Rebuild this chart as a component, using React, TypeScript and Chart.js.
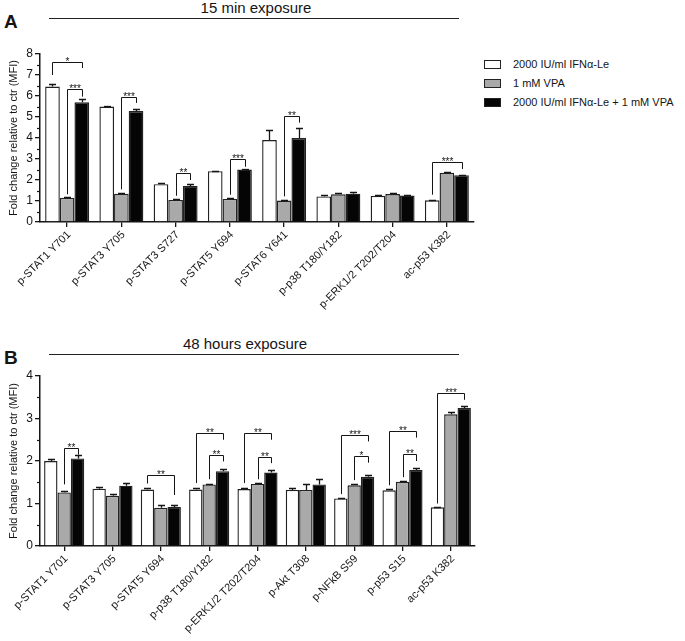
import React, { useEffect, useRef } from "react";
import { Chart, registerables } from "chart.js";

Chart.register(...registerables);

// ---------- Panel A: 15 min exposure ----------
const categoriesA = [
  "p-STAT1 Y701",
  "p-STAT3 Y705",
  "p-STAT3 S727",
  "p-STAT5 Y694",
  "p-STAT6 Y641",
  "p-p38 T180/Y182",
  "p-ERK1/2 T202/T204",
  "ac-p53 K382",
];
const ifnA = [6.45, 5.5, 1.8, 2.42, 3.9, 1.22, 1.25, 1.03];
const ifnAErr = [0.1, 0.02, 0.07, 0.03, 0.5, 0.07, 0.05, 0.02];
const vpaA = [1.15, 1.35, 1.05, 1.1, 1.02, 1.32, 1.33, 2.35];
const vpaAErr = [0.02, 0.04, 0.03, 0.03, 0.02, 0.05, 0.04, 0.04];
const comboA = [5.7, 5.28, 1.72, 2.5, 4.0, 1.35, 1.26, 2.23];
const comboAErr = [0.17, 0.09, 0.08, 0.02, 0.5, 0.1, 0.02, 0.03];
// significance brackets: [category, fromSeries, toSeries, topValue, leftEndValue, rightEndValue, label]
const bracketsA: [number, number, number, number, number, number, string][] = [
  [0, 0, 2, 7.6, 7.0, 7.33, "*"],
  [0, 1, 2, 6.32, 1.32, 5.97, "***"],
  [1, 1, 2, 5.97, 1.55, 5.67, "***"],
  [2, 1, 2, 2.32, 1.25, 2.0, "**"],
  [3, 1, 2, 2.98, 1.3, 2.63, "***"],
  [4, 1, 2, 5.05, 1.22, 4.73, "**"],
  [7, 0, 2, 2.84, 1.3, 2.52, "***"],
];
const yTicksA = [0, 1, 2, 3, 4, 5, 6, 7, 8];

// ---------- Panel B: 48 hours exposure ----------
const categoriesB = [
  "p-STAT1 Y701",
  "p-STAT3 Y705",
  "p-STAT5 Y694",
  "p-p38 T180/Y182",
  "p-ERK1/2 T202/T204",
  "p-Akt T308",
  "p-NFkB S59",
  "p-p53 S15",
  "ac-p53 K382",
];
const ifnB = [2.0, 1.35, 1.33, 1.33, 1.34, 1.32, 1.12, 1.31, 0.91];
const ifnBErr = [0.05, 0.04, 0.04, 0.04, 0.03, 0.05, 0.01, 0.02, 0.01];
const vpaB = [1.26, 1.18, 0.9, 1.45, 1.46, 1.32, 1.43, 1.51, 3.1];
const vpaBErr = [0.04, 0.04, 0.07, 0.02, 0.02, 0.13, 0.02, 0.01, 0.06];
const comboB = [2.06, 1.42, 0.92, 1.76, 1.73, 1.45, 1.63, 1.79, 3.25];
const comboBErr = [0.09, 0.07, 0.04, 0.06, 0.05, 0.13, 0.04, 0.05, 0.04];
const bracketsB: [number, number, number, number, number, number, string][] = [
  [0, 1, 2, 2.3, 1.45, 2.15, "**"],
  [2, 0, 2, 1.67, 1.47, 1.2, "**"],
  [3, 0, 2, 2.66, 1.48, 2.5, "**"],
  [3, 1, 2, 2.15, 1.57, 1.99, "**"],
  [4, 0, 2, 2.66, 1.48, 2.5, "**"],
  [4, 1, 2, 2.1, 1.57, 1.95, "**"],
  [6, 0, 2, 2.62, 1.22, 2.46, "***"],
  [6, 1, 2, 2.12, 1.55, 1.96, "*"],
  [7, 0, 2, 2.71, 1.43, 2.55, "**"],
  [7, 1, 2, 2.16, 1.62, 2.0, "**"],
  [8, 0, 2, 3.6, 1.0, 3.44, "***"],
];
const yTicksB = [0, 1, 2, 3, 4];

const seriesNames = [
  "2000 IU/ml IFN\u03b1-Le",
  "1 mM VPA",
  "2000 IU/ml IFN\u03b1-Le + 1 mM VPA",
];
const seriesFill = ["#ffffff", "#a9a9a9", "#050505"];

const FONT = "'Liberation Sans', Arial, Helvetica, sans-serif";
const INK = "#151515";

type Bracket = [number, number, number, number, number, number, string];

function makePlugins(errors: number[][], brackets: Bracket[]) {
  const errorBars = {
    id: "errorBars",
    afterDatasetsDraw(chart: any) {
      const ctx = chart.ctx;
      const y = chart.scales.y;
      ctx.save();
      ctx.strokeStyle = INK;
      ctx.lineWidth = 1.3;
      chart.data.datasets.forEach((ds: any, i: number) => {
        const meta = chart.getDatasetMeta(i);
        meta.data.forEach((bar: any, j: number) => {
          const e = errors[i][j];
          if (!e) return;
          const v = ds.data[j];
          const yTop = Math.round(y.getPixelForValue(v + e)) + 0.5;
          const yBase = y.getPixelForValue(v);
          const x = Math.round(bar.x) + 0.5;
          ctx.beginPath();
          ctx.moveTo(x, yBase);
          ctx.lineTo(x, yTop);
          ctx.moveTo(x - 3.5, yTop);
          ctx.lineTo(x + 3.5, yTop);
          ctx.stroke();
        });
      });
      ctx.restore();
    },
  };
  const sig = {
    id: "sigBrackets",
    afterDatasetsDraw(chart: any) {
      const ctx = chart.ctx;
      const y = chart.scales.y;
      ctx.save();
      ctx.strokeStyle = INK;
      ctx.fillStyle = INK;
      ctx.lineWidth = 1;
      ctx.font = `10px ${FONT}`;
      ctx.textAlign = "center";
      ctx.textBaseline = "alphabetic";
      brackets.forEach(([cat, a, b, top, ya, yb, label]) => {
        const x1 = Math.round(chart.getDatasetMeta(a).data[cat].x) + 0.5;
        const x2 = Math.round(chart.getDatasetMeta(b).data[cat].x) + 0.5;
        const yt = Math.round(y.getPixelForValue(top)) + 0.5;
        ctx.beginPath();
        ctx.moveTo(x1, y.getPixelForValue(ya));
        ctx.lineTo(x1, yt);
        ctx.lineTo(x2, yt);
        ctx.lineTo(x2, y.getPixelForValue(yb));
        ctx.stroke();
        ctx.fillText(label, (x1 + x2) / 2, yt + 2);
      });
      ctx.restore();
    },
  };
  const axisDecor = {
    id: "axisDecor",
    afterDraw(chart: any) {
      const ctx = chart.ctx;
      const y = chart.scales.y;
      const x = chart.scales.x;
      const left = chart.chartArea.left;
      ctx.save();
      // minor ticks on the value axis
      ctx.strokeStyle = INK;
      ctx.lineWidth = 1.2;
      for (let v = y.min + 0.5; v < y.max; v += 1) {
        const py = Math.round(y.getPixelForValue(v)) + 0.5;
        ctx.beginPath();
        ctx.moveTo(left - 3, py);
        ctx.lineTo(left, py);
        ctx.stroke();
      }
      // 45-degree category labels, right end at each tick
      ctx.fillStyle = INK;
      ctx.font = `11px ${FONT}`;
      ctx.textAlign = "right";
      ctx.textBaseline = "middle";
      const labels: string[] = chart.data.labels;
      labels.forEach((lab, i) => {
        const px = x.getPixelForTick(i);
        ctx.save();
        ctx.translate(px + 2, x.top + 11);
        ctx.rotate(-Math.PI / 4);
        ctx.fillText(lab, 0, 0);
        ctx.restore();
      });
      ctx.restore();
    },
  };
  return [errorBars, sig, axisDecor];
}

interface PanelProps {
  labels: string[];
  values: number[][];
  errors: number[][];
  brackets: Bracket[];
  yTicks: number[];
  top: number;
  width: number;
  height: number;
  padTop: number;
  padRight: number;
  xHeight: number;
  catPct: number;
}

function BarPanel(p: PanelProps) {
  const ref = useRef<HTMLCanvasElement>(null);
  useEffect(() => {
    if (!ref.current) return;
    const yMax = p.yTicks[p.yTicks.length - 1];
    const chart = new Chart(ref.current, {
      type: "bar",
      data: {
        labels: p.labels,
        datasets: p.values.map((vals, i) => ({
          label: seriesNames[i],
          data: vals,
          backgroundColor: seriesFill[i],
          borderColor: "#222222",
          borderWidth: 1.4,
          categoryPercentage: p.catPct,
          barPercentage: 1.0,
        })),
      },
      options: {
        animation: false,
        responsive: false,
        maintainAspectRatio: false,
        layout: { padding: { top: p.padTop, right: p.padRight, left: 0, bottom: 0 } },
        plugins: { legend: { display: false }, tooltip: { enabled: false } },
        scales: {
          x: {
            ticks: {
              display: false,
              autoSkip: false,
            },
            grid: {
              display: true,
              drawOnChartArea: false,
              drawTicks: true,
              tickLength: 5,
              offset: false,
              color: INK,
              lineWidth: 1.3,
            },
            border: { display: true, color: INK, width: 1.5 },
            afterFit: (s: any) => {
              s.height = p.xHeight;
            },
          },
          y: {
            min: 0,
            max: yMax,
            ticks: {
              stepSize: 1,
              font: { size: 12, family: FONT },
              color: INK,
              padding: 2,
            },
            grid: {
              display: true,
              drawOnChartArea: false,
              drawTicks: true,
              tickLength: 5,
              color: INK,
              lineWidth: 1.3,
            },
            border: { display: true, color: INK, width: 1.5 },
            title: {
              display: true,
              text: "Fold change relative to ctr (MFI)",
              font: { size: 11, family: FONT },
              color: INK,
              padding: { top: 7, bottom: 0 },
            },
            afterFit: (s: any) => {
              s.width = 40;
            },
          },
        },
      },
      plugins: makePlugins(p.errors, p.brackets),
    } as any);
    return () => chart.destroy();
  }, []);
  return (
    <canvas
      ref={ref}
      width={p.width}
      height={p.height}
      style={{ position: "absolute", left: 0, top: p.top, width: p.width, height: p.height }}
    />
  );
}

const textBase: React.CSSProperties = {
  position: "absolute",
  fontFamily: FONT,
  color: INK,
  whiteSpace: "nowrap",
  lineHeight: 1,
};

function Header({ letter, title, top, center }: { letter: string; title: string; top: number; center: number }) {
  return (
    <>
      <div style={{ ...textBase, left: 4, top: top + 12, fontSize: 19, fontWeight: "bold" }}>{letter}</div>
      <div style={{ ...textBase, left: center, top: top, fontSize: 15, transform: "translateX(-50%)" }}>{title}</div>
      <div style={{ position: "absolute", left: 49, top: top + 18, width: 410, height: 1.4, background: "#222" }} />
    </>
  );
}

function Legend() {
  const rows = [60, 79, 98];
  return (
    <>
      {seriesNames.map((name, i) => (
        <React.Fragment key={name}>
          <div
            style={{
              position: "absolute",
              left: 484,
              top: rows[i],
              width: 17,
              height: 9,
              boxSizing: "border-box",
              border: "1.3px solid #222",
              background: seriesFill[i],
            }}
          />
          <div style={{ ...textBase, left: 513, top: rows[i] - 2, fontSize: 11, lineHeight: "13px" }}>{name}</div>
        </React.Fragment>
      ))}
    </>
  );
}

export default function App() {
  return (
    <div
      style={{
        position: "fixed",
        left: 0,
        top: 0,
        width: 685,
        height: 641,
        background: "#ffffff",
        overflow: "hidden",
      }}
    >
      <Header letter="A" title="15 min exposure" top={0} center={256} />
      <Legend />
      <BarPanel
        labels={categoriesA}
        values={[ifnA, vpaA, comboA]}
        errors={[ifnAErr, vpaAErr, comboAErr]}
        brackets={bracketsA}
        yTicks={yTicksA}
        top={30}
        width={480}
        height={300}
        padTop={24}
        padRight={6}
        xHeight={108}
        catPct={0.81}
      />
      <Header letter="B" title="48 hours exposure" top={336} center={245} />
      <BarPanel
        labels={categoriesB}
        values={[ifnB, vpaB, comboB]}
        errors={[ifnBErr, vpaBErr, comboBErr]}
        brackets={bracketsB}
        yTicks={yTicksB}
        top={340}
        width={480}
        height={301}
        padTop={36}
        padRight={5}
        xHeight={95}
        catPct={0.83}
      />
    </div>
  );
}
